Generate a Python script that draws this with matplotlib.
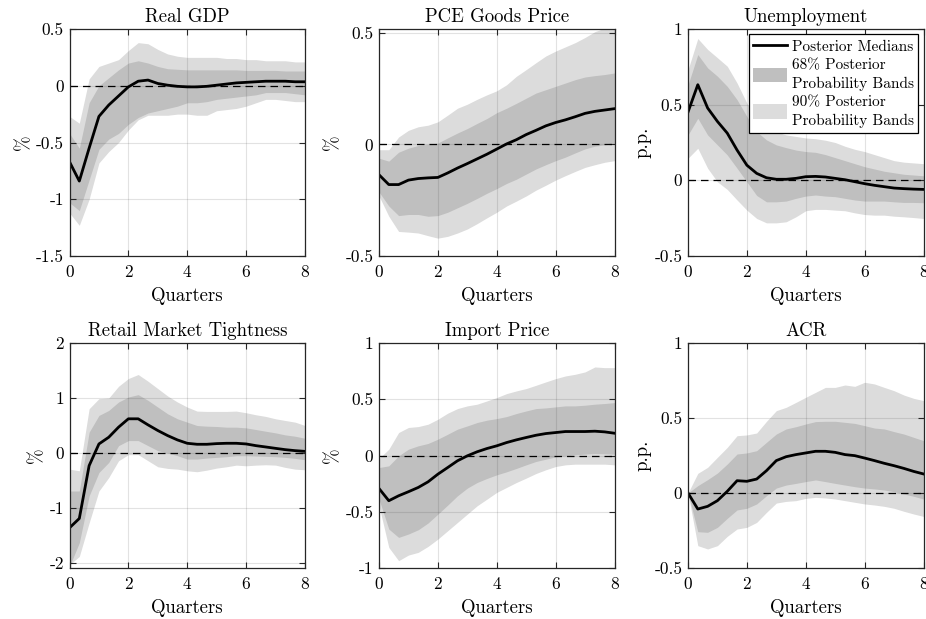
import numpy as np
import matplotlib
matplotlib.use("Agg")
import matplotlib.pyplot as plt
from matplotlib.lines import Line2D
from matplotlib.patches import Patch

plt.rcParams['font.family'] = ['cmr10', 'DejaVu Serif']
plt.rcParams['axes.unicode_minus'] = False
plt.rcParams['mathtext.fontset'] = 'cm'

# horizon in quarters (monthly steps)
quarters = [k / 3 for k in range(25)]

titles = ["Real GDP", "PCE Goods Price", "Unemployment",
          "Retail Market Tightness", "Import Price", "ACR"]
ylabels = ["%", "%", "p.p.", "%", "%", "p.p."]
yticks = [[-1.5, -1, -0.5, 0, 0.5], [-0.5, 0, 0.5], [-0.5, 0, 0.5, 1],
          [-2, -1, 0, 1, 2], [-1, -0.5, 0, 0.5, 1], [-0.5, 0, 0.5, 1]]
yticklabels = [["-1.5", "-1", "-0.5", "0", "0.5"], ["-0.5", "0", "0.5"],
               ["-0.5", "0", "0.5", "1"], ["-2", "-1", "0", "1", "2"],
               ["-1", "-0.5", "0", "0.5", "1"], ["-0.5", "0", "0.5", "1"]]
ylims = [(-1.5, 0.5), (-0.5, 0.517), (-0.5, 1.0), (-2.09, 2.0), (-1.0, 1.0), (-0.5, 1.0)]
xticks = [0, 2, 4, 6, 8]

# Real GDP
gdp_med = [-0.67, -0.84, -0.55, -0.27, -0.17, -0.09, -0.01, 0.04, 0.05, 0.02, 0.005, -0.005,
           -0.01, -0.01, -0.005, 0.005, 0.015, 0.025, 0.03, 0.035, 0.04, 0.04, 0.04, 0.035, 0.035]
gdp_lo68 = [-1.03, -1.10, -0.83, -0.56, -0.47, -0.42, -0.34, -0.28, -0.24, -0.22, -0.20, -0.18,
            -0.15, -0.15, -0.14, -0.12, -0.11, -0.10, -0.09, -0.08, -0.06, -0.06, -0.06, -0.07, -0.08]
gdp_hi68 = [-0.42, -0.55, -0.15, 0.0, 0.07, 0.14, 0.20, 0.22, 0.20, 0.17, 0.15, 0.145,
            0.14, 0.14, 0.14, 0.14, 0.14, 0.14, 0.135, 0.135, 0.135, 0.135, 0.13, 0.13, 0.13]
gdp_lo90 = [-1.12, -1.23, -1.00, -0.68, -0.58, -0.50, -0.39, -0.30, -0.26, -0.26, -0.26, -0.25,
            -0.25, -0.26, -0.26, -0.22, -0.21, -0.20, -0.18, -0.15, -0.12, -0.12, -0.13, -0.14, -0.14]
gdp_hi90 = [-0.27, -0.33, 0.06, 0.17, 0.20, 0.23, 0.31, 0.38, 0.37, 0.32, 0.28, 0.26,
            0.25, 0.25, 0.25, 0.25, 0.24, 0.24, 0.23, 0.23, 0.22, 0.22, 0.22, 0.21, 0.21]

# PCE Goods Price
pce_med = [-0.136, -0.18, -0.18, -0.16, -0.153, -0.15, -0.148, -0.128, -0.106, -0.086, -0.065, -0.044,
           -0.021, 0.002, 0.021, 0.044, 0.063, 0.083, 0.098, 0.11, 0.124, 0.139, 0.148, 0.154, 0.16]
pce_lo68 = [-0.213, -0.276, -0.319, -0.314, -0.314, -0.322, -0.319, -0.304, -0.284, -0.264, -0.242, -0.219,
            -0.198, -0.175, -0.156, -0.133, -0.11, -0.091, -0.073, -0.057, -0.038, -0.02, -0.008, -0.002, 0.003]
pce_hi68 = [-0.062, -0.075, -0.035, -0.017, -0.005, 0.0, 0.006, 0.029, 0.051, 0.071, 0.094, 0.116,
            0.142, 0.162, 0.184, 0.207, 0.23, 0.245, 0.26, 0.275, 0.29, 0.302, 0.308, 0.313, 0.32]
pce_lo90 = [-0.231, -0.322, -0.39, -0.393, -0.397, -0.409, -0.42, -0.412, -0.397, -0.379, -0.355, -0.329,
            -0.304, -0.276, -0.254, -0.231, -0.205, -0.183, -0.16, -0.14, -0.121, -0.103, -0.091, -0.08, -0.073]
pce_hi90 = [-0.024, -0.024, 0.033, 0.063, 0.079, 0.086, 0.101, 0.131, 0.162, 0.18, 0.202, 0.222,
            0.24, 0.267, 0.305, 0.335, 0.366, 0.396, 0.418, 0.437, 0.456, 0.479, 0.505, 0.521, 0.532]

# Unemployment
une_med = [0.451, 0.632, 0.478, 0.389, 0.312, 0.20, 0.10, 0.046, 0.017, 0.007, 0.007, 0.013,
           0.024, 0.026, 0.022, 0.013, 0.004, -0.009, -0.022, -0.033, -0.042, -0.051, -0.055, -0.058, -0.06]
une_lo68 = [0.30, 0.41, 0.30, 0.234, 0.168, 0.08, -0.01, -0.10, -0.142, -0.142, -0.137, -0.119,
            -0.104, -0.097, -0.104, -0.108, -0.119, -0.13, -0.137, -0.137, -0.137, -0.142, -0.146, -0.146, -0.148]
une_hi68 = [0.63, 0.831, 0.743, 0.688, 0.621, 0.533, 0.422, 0.322, 0.267, 0.234, 0.216, 0.20,
            0.19, 0.185, 0.17, 0.15, 0.13, 0.11, 0.09, 0.075, 0.06, 0.05, 0.04, 0.035, 0.03]
une_lo90 = [0.146, 0.212, 0.08, -0.01, -0.06, -0.13, -0.197, -0.252, -0.281, -0.281, -0.274, -0.241,
            -0.201, -0.192, -0.192, -0.197, -0.201, -0.215, -0.226, -0.23, -0.23, -0.237, -0.241, -0.246, -0.252]
une_hi90 = [0.73, 0.937, 0.865, 0.81, 0.754, 0.643, 0.51, 0.40, 0.35, 0.32, 0.30, 0.29,
            0.28, 0.275, 0.265, 0.25, 0.225, 0.205, 0.19, 0.17, 0.15, 0.13, 0.12, 0.115, 0.11]

# Retail Market Tightness
rmt_med = [-1.36, -1.19, -0.23, 0.165, 0.287, 0.47, 0.622, 0.622, 0.512, 0.409, 0.317, 0.238,
           0.177, 0.159, 0.159, 0.171, 0.177, 0.177, 0.165, 0.134, 0.11, 0.085, 0.061, 0.043, 0.03]
rmt_lo68 = [-2.06, -1.63, -0.78, -0.354, -0.171, 0.134, 0.226, 0.226, 0.134, 0.043, 0.0, -0.049,
            -0.11, -0.11, -0.091, -0.079, -0.067, -0.049, -0.049, -0.055, -0.061, -0.067, -0.079, -0.098, -0.122]
rmt_hi68 = [-0.69, -0.69, 0.378, 0.683, 0.774, 0.927, 1.018, 1.061, 0.957, 0.835, 0.713, 0.622,
            0.561, 0.50, 0.488, 0.482, 0.47, 0.47, 0.457, 0.427, 0.396, 0.366, 0.329, 0.305, 0.268]
rmt_lo90 = [-2.03, -1.88, -1.27, -0.69, -0.445, -0.14, -0.03, -0.03, -0.14, -0.25, -0.28, -0.293,
            -0.323, -0.34, -0.311, -0.274, -0.25, -0.22, -0.232, -0.22, -0.213, -0.22, -0.262, -0.293, -0.305]
rmt_hi90 = [-0.293, -0.323, 0.805, 0.988, 1.0, 1.213, 1.354, 1.427, 1.305, 1.171, 1.037, 0.927,
            0.835, 0.762, 0.756, 0.756, 0.756, 0.762, 0.732, 0.695, 0.665, 0.622, 0.591, 0.561, 0.50]

# Import Price
imp_med = [-0.293, -0.402, -0.358, -0.322, -0.284, -0.234, -0.166, -0.107, -0.047, -0.003, 0.033, 0.062,
           0.086, 0.115, 0.139, 0.16, 0.18, 0.195, 0.204, 0.213, 0.213, 0.213, 0.216, 0.21, 0.198]
imp_lo68 = [-0.388, -0.654, -0.728, -0.698, -0.66, -0.60, -0.521, -0.441, -0.358, -0.29, -0.24, -0.204,
            -0.172, -0.145, -0.115, -0.083, -0.053, -0.033, -0.012, -0.003, 0.006, 0.012, 0.018, 0.015, 0.012]
imp_hi68 = [-0.107, -0.092, -0.003, 0.056, 0.086, 0.107, 0.145, 0.189, 0.234, 0.263, 0.293, 0.314,
            0.328, 0.346, 0.373, 0.396, 0.417, 0.423, 0.432, 0.441, 0.441, 0.447, 0.456, 0.462, 0.47]
imp_lo90 = [-0.447, -0.817, -0.935, -0.885, -0.861, -0.808, -0.743, -0.669, -0.595, -0.521, -0.447, -0.388,
            -0.328, -0.284, -0.24, -0.201, -0.16, -0.127, -0.098, -0.083, -0.077, -0.077, -0.077, -0.077, -0.083]
imp_hi90 = [-0.027, 0.056, 0.204, 0.249, 0.257, 0.278, 0.322, 0.376, 0.417, 0.441, 0.456, 0.485,
            0.515, 0.55, 0.574, 0.595, 0.624, 0.654, 0.683, 0.707, 0.722, 0.743, 0.787, 0.781, 0.781]

# ACR
acr_med = [0.0, -0.107, -0.089, -0.051, 0.011, 0.082, 0.078, 0.093, 0.149, 0.216, 0.242, 0.256,
           0.267, 0.278, 0.278, 0.271, 0.256, 0.249, 0.233, 0.216, 0.198, 0.182, 0.164, 0.144, 0.127]
acr_lo68 = [0.0, -0.258, -0.262, -0.229, -0.169, -0.113, -0.102, -0.073, -0.018, 0.033, 0.053, 0.064,
            0.076, 0.087, 0.076, 0.064, 0.053, 0.042, 0.033, 0.027, 0.02, 0.009, -0.007, -0.022, -0.04]
acr_hi68 = [0.0, 0.049, 0.089, 0.133, 0.193, 0.26, 0.267, 0.282, 0.338, 0.393, 0.427, 0.442,
            0.46, 0.476, 0.478, 0.478, 0.471, 0.464, 0.449, 0.433, 0.427, 0.409, 0.393, 0.371, 0.349]
acr_lo90 = [0.0, -0.351, -0.373, -0.351, -0.289, -0.24, -0.229, -0.196, -0.129, -0.067, -0.056, -0.051,
            -0.036, -0.029, -0.033, -0.04, -0.051, -0.062, -0.073, -0.08, -0.089, -0.102, -0.122, -0.14, -0.156]
acr_hi90 = [0.0, 0.131, 0.171, 0.238, 0.304, 0.382, 0.387, 0.40, 0.478, 0.549, 0.571, 0.604,
            0.638, 0.671, 0.704, 0.704, 0.72, 0.711, 0.738, 0.727, 0.704, 0.682, 0.653, 0.631, 0.616]

series = [
    (gdp_med, gdp_lo68, gdp_hi68, gdp_lo90, gdp_hi90),
    (pce_med, pce_lo68, pce_hi68, pce_lo90, pce_hi90),
    (une_med, une_lo68, une_hi68, une_lo90, une_hi90),
    (rmt_med, rmt_lo68, rmt_hi68, rmt_lo90, rmt_hi90),
    (imp_med, imp_lo68, imp_hi68, imp_lo90, imp_hi90),
    (acr_med, acr_lo68, acr_hi68, acr_lo90, acr_hi90),
]

LIGHT = '#dcdcdc'
DARK = '#bfbfbf'
AXC = '#262626'

W, H = 926, 619
fig = plt.figure(figsize=(W / 100, H / 100), dpi=100)

lefts = [69.5, 379, 688]
rows = [(29, 256), (343, 568)]
width = 235.5

for i in range(6):
    r, c = divmod(i, 3)
    top, bot = rows[r]
    ax = fig.add_axes([lefts[c] / W, 1 - bot / H, width / W, (bot - top) / H])
    med, lo68, hi68, lo90, hi90 = series[i]
    ax.fill_between(quarters, lo90, hi90, color=LIGHT, linewidth=0, zorder=1)
    ax.fill_between(quarters, lo68, hi68, color=DARK, linewidth=0, zorder=1.1)
    ax.axhline(0, color='k', linestyle=(0, (6, 4)), linewidth=0.9, zorder=3)
    ax.plot(quarters, med, color='k', linewidth=2.0, zorder=4)
    ax.set_xlim(0, 8)
    ax.set_ylim(*ylims[i])
    ax.set_xticks(xticks)
    ax.set_xticklabels([str(x) for x in xticks])
    ax.set_yticks(yticks[i])
    ax.set_yticklabels(yticklabels[i])
    ax.set_axisbelow(False)
    ax.grid(True, color='#262626', alpha=0.13, linewidth=0.8, zorder=2)
    ax.tick_params(direction='in', top=True, right=True, length=4, width=0.8,
                   colors=AXC, labelcolor='k', labelsize=12.5)
    ax.tick_params(axis='x', pad=6)
    ax.tick_params(axis='y', pad=4)
    for s in ax.spines.values():
        s.set_color(AXC)
        s.set_linewidth(0.9)
        s.set_zorder(5)
    ax.set_title(titles[i], fontsize=13.5, pad=5)
    ax.set_xlabel("Quarters", fontsize=13.5, labelpad=5)
    ax.set_ylabel(ylabels[i], fontsize=13.5, labelpad=2)
    if i == 2:
        handles = [Line2D([0], [0], color='k', linewidth=2.0),
                   Patch(facecolor=DARK, edgecolor='none'),
                   Patch(facecolor=LIGHT, edgecolor='none')]
        labels = ["Posterior Medians", "68% Posterior\nProbability Bands",
                  "90% Posterior\nProbability Bands"]
        leg = ax.legend(handles, labels, loc='upper right', fontsize=11,
                        fancybox=False, framealpha=1, edgecolor='k',
                        handlelength=2.2, handleheight=1.1, handletextpad=0.3,
                        labelspacing=0.25, borderpad=0.3, borderaxespad=0.35)
        for t in leg.get_texts():
            t.set_linespacing(1.45)
        leg.get_frame().set_linewidth(0.9)
        leg.set_zorder(10)

fig.savefig("out.png", dpi=100)
